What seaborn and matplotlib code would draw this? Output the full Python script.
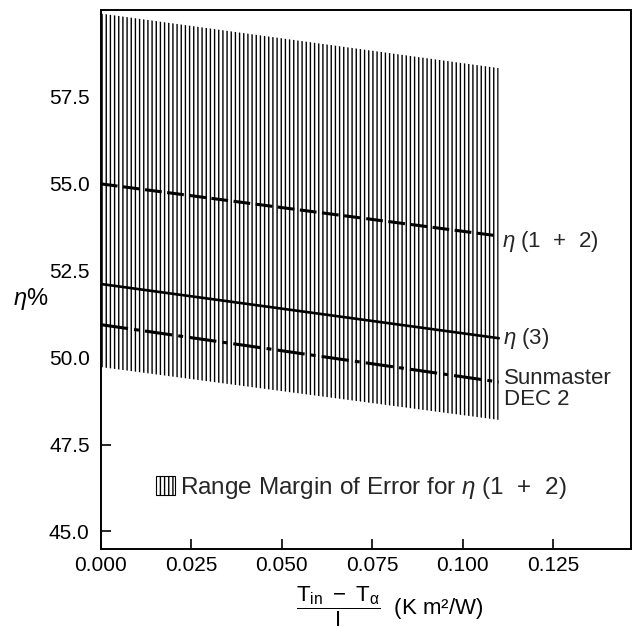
import numpy as np
import pandas as pd
import matplotlib
matplotlib.use('Agg')
import matplotlib.pyplot as plt
from matplotlib.patches import Patch
import seaborn as sns

# values
x_ends = [0.0, 0.11]
eta_12 = [55.0, 53.5]          # dashed, eta (1 + 2)
eta_3 = [52.12, 50.56]         # solid, eta (3)
sunmaster = [50.95, 49.3]      # dash-dot, Sunmaster DEC 2
band_upper = [59.9, 58.33]     # error range of eta (1 + 2)
band_lower = [49.73, 48.21]

x_ticks = [0.000, 0.025, 0.050, 0.075, 0.100, 0.125]
y_ticks = [45.0, 47.5, 50.0, 52.5, 55.0, 57.5]

sns.set_theme(style='ticks')
plt.rcParams['font.family'] = ['Liberation Sans', 'DejaVu Sans']
plt.rcParams['mathtext.fontset'] = 'custom'
plt.rcParams['mathtext.rm'] = 'Liberation Sans'
plt.rcParams['mathtext.it'] = 'Liberation Sans:italic'
plt.rcParams['hatch.linewidth'] = 1.0
plt.rcParams['hatch.color'] = 'black'

df = pd.DataFrame({'x': x_ends, 'eta12': eta_12, 'eta3': eta_3,
                   'sun': sunmaster, 'hi': band_upper, 'lo': band_lower})

fig = plt.figure(figsize=(6.34, 6.28), dpi=100)
ax = fig.add_axes([0.159, 0.126, 0.836, 0.858])

# hatched error band
ax.fill_between(df['x'], df['lo'], df['hi'], facecolor='white',
                edgecolor='black', hatch='||||', linewidth=0)

sns.lineplot(data=df, x='x', y='eta12', ax=ax, color='black', lw=2.2)
sns.lineplot(data=df, x='x', y='eta3', ax=ax, color='black', lw=1.9)
sns.lineplot(data=df, x='x', y='sun', ax=ax, color='black', lw=2.2)
ax.lines[0].set_dashes([5.5, 1.8])
ax.lines[2].set_dashes([9, 2, 1.6, 2])

# labels at the line ends
lab_kw = dict(textcoords='offset points', va='center', ha='left', fontsize=16)
ax.annotate(r'$\eta$ (1  +  2)', xy=(x_ends[-1], eta_12[-1]), xytext=(2, -4), **lab_kw)
ax.annotate(r'$\eta$ (3)', xy=(x_ends[-1], eta_3[-1]), xytext=(3, 0), **lab_kw)
ax.annotate('Sunmaster\nDEC 2', xy=(x_ends[-1], sunmaster[-1]), xytext=(4, -5),
            linespacing=1.0, **lab_kw)

ax.set_xlim(0, 0.1465)
ax.set_ylim(44.5, 60.0)
ax.set_xticks(x_ticks)
ax.set_yticks(y_ticks)
ax.set_xticklabels([f'{v:.3f}' for v in x_ticks])
ax.set_yticklabels([f'{v:.1f}' for v in y_ticks])
ax.tick_params(direction='in', length=7, width=1.2, labelsize=15, colors='black')
ax.tick_params(axis='x', pad=5)
ax.tick_params(axis='y', pad=8)

for s in ax.spines.values():
    s.set_visible(True)
    s.set_color('black')
    s.set_linewidth(1.4)

ax.set_ylabel(r'$\eta$%', rotation=0, fontsize=17, color='black',
              ha='center', va='center')
ax.yaxis.set_label_coords(-0.132, 0.464)
ax.set_xlabel(r'$\dfrac{\mathrm{T_{in}\ -\ T_{\alpha}}}{\mathrm{I}}$  (K m²/W)',
              fontsize=16, color='black', ha='center', va='top')
ax.xaxis.set_label_coords(0.545, -0.066)

legend_patch = Patch(facecolor='white', edgecolor='black', hatch='||||', lw=0.8)
ax.legend(handles=[legend_patch], labels=[r'Range Margin of Error for $\eta$ (1  +  2)'],
          loc='center left', bbox_to_anchor=(0.105, 0.113), frameon=False,
          fontsize=17.5, handlelength=0.75, handleheight=0.8, handletextpad=0.2,
          borderaxespad=0, borderpad=0)

fig.savefig('out.png', dpi=100)
